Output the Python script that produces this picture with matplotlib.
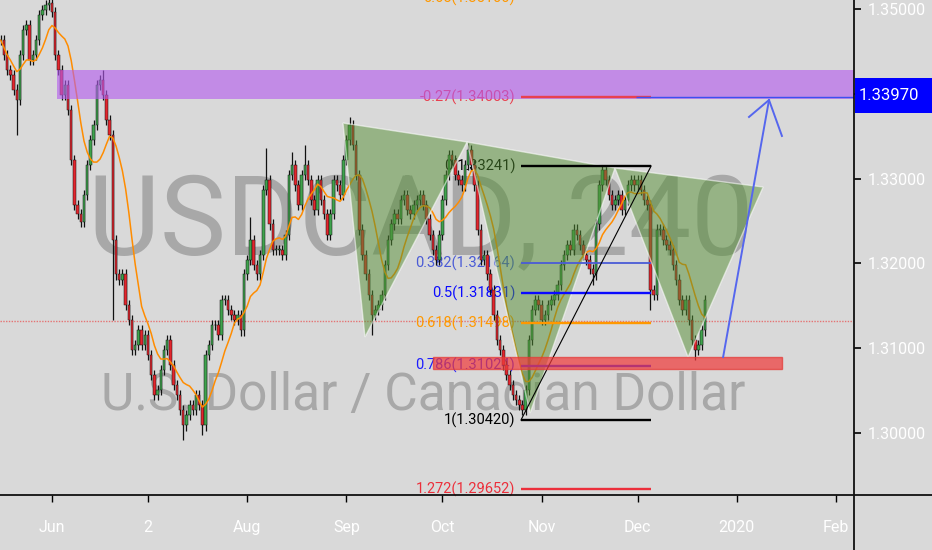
import numpy as np
import pandas as pd
import matplotlib
matplotlib.use('Agg')
import matplotlib.pyplot as plt
import matplotlib.dates as mdates
from matplotlib.patches import Polygon, Rectangle
from matplotlib.lines import Line2D

# daily closes, first bar 16 May 2019
first_day = '2019-05-16'
closes = [
    1.3463, 1.3446, 1.3428, 1.3422, 1.3405, 1.3393, 1.3446, 1.3475, 1.3481, 1.3440,
    1.3446, 1.3463, 1.3493, 1.3499, 1.3505, 1.3507, 1.3496, 1.3446, 1.3428, 1.3399,
    1.3410, 1.3381, 1.3322, 1.3269, 1.3258, 1.3249, 1.3281, 1.3316, 1.3346, 1.3363,
    1.3410, 1.3416, 1.3399, 1.3369, 1.3351, 1.3228, 1.3187, 1.3181, 1.3187, 1.3151,
    1.3133, 1.3098, 1.3104, 1.3121, 1.3104, 1.3116, 1.3092, 1.3068, 1.3045, 1.3051,
    1.3074, 1.3098, 1.3110, 1.3080, 1.3057, 1.3045, 1.3027, 1.3009, 1.3021, 1.3033,
    1.3027, 1.3045, 1.3033, 1.3009, 1.3092, 1.3104, 1.3127, 1.3127, 1.3116, 1.3157,
    1.3157, 1.3145, 1.3139, 1.3133, 1.3139, 1.3121, 1.3187, 1.3204, 1.3228, 1.3198,
    1.3187, 1.3210, 1.3287, 1.3298, 1.3246, 1.3216, 1.3216, 1.3216, 1.3210, 1.3234,
    1.3304, 1.3316, 1.3292, 1.3269, 1.3304, 1.3316, 1.3298, 1.3275, 1.3263, 1.3298,
    1.3275, 1.3258, 1.3234, 1.3258, 1.3298, 1.3292, 1.3281, 1.3322, 1.3346, 1.3363,
    1.3340, 1.3304, 1.3240, 1.3210, 1.3187, 1.3163, 1.3139, 1.3145, 1.3151, 1.3163,
    1.3198, 1.3228, 1.3246, 1.3258, 1.3252, 1.3275, 1.3281, 1.3263, 1.3258, 1.3269,
    1.3275, 1.3281, 1.3269, 1.3252, 1.3234, 1.3216, 1.3204, 1.3234, 1.3275, 1.3304,
    1.3328, 1.3322, 1.3304, 1.3298, 1.3292, 1.3316, 1.3334, 1.3316, 1.3292, 1.3240,
    1.3204, 1.3210, 1.3187, 1.3169, 1.3139, 1.3110, 1.3098, 1.3080, 1.3068, 1.3057,
    1.3045, 1.3039, 1.3033, 1.3027, 1.3051, 1.3110, 1.3145, 1.3157, 1.3151, 1.3133,
    1.3139, 1.3151, 1.3157, 1.3163, 1.3175, 1.3198, 1.3210, 1.3222, 1.3216, 1.3240,
    1.3234, 1.3222, 1.3210, 1.3204, 1.3193, 1.3187, 1.3246, 1.3292, 1.3310, 1.3298,
    1.3281, 1.3269, 1.3275, 1.3281, 1.3263, 1.3275, 1.3292, 1.3298, 1.3292, 1.3298,
    1.3287, 1.3275, 1.3269, 1.3169, 1.3163, 1.3240, 1.3240, 1.3228, 1.3222, 1.3216,
    1.3198, 1.3181, 1.3157, 1.3145, 1.3157, 1.3133, 1.3110, 1.3098, 1.3104, 1.3121,
    1.3157,
]

# long wicks sticking out of the pack
spike_days = ['2019-05-21', '2019-06-17', '2019-06-20', '2019-07-12', '2019-07-18',
              '2019-08-02', '2019-08-07', '2019-08-15', '2019-08-19', '2019-09-02',
              '2019-09-09', '2019-10-09', '2019-11-17', '2019-12-05', '2019-12-19']
spike_prices = [1.3351, 1.3428, 1.3133, 1.2992, 1.2998,
                1.3255, 1.3336, 1.3331, 1.3340, 1.3373,
                1.3116, 1.3342, 1.3175, 1.3145, 1.3086]

# the green triangles pattern
pattern_times = ['2019-08-30 22:00', '2019-09-06 19:00', '2019-10-08 17:00',
                 '2019-10-28 10:00', '2019-11-23 22:00', '2019-12-16 18:00',
                 '2020-01-09 05:00']
pattern_prices = [1.33656, 1.31133, 1.33432, 1.30237, 1.33125, 1.30897, 1.32901]

# fib retracement as drawn (positions of the 0 and 1 lines)
fib_from, fib_to = '2019-10-25 13:00', '2019-12-05 05:00'
fib_label_at = '2019-10-23 18:00'
fib_price_0, fib_price_1 = 1.33149, 1.30154
fib_ratios = [-0.66, -0.27, 0, 0.382, 0.5, 0.618, 0.786, 1, 1.272]
fib_texts = ['0.65(1.35100)', '-0.27(1.34003)', '0(1.33241)', '0.382(1.32164)',
             '0.5(1.31831)', '0.618(1.31498)', '0.786(1.31024)', '1(1.30420)',
             '1.272(1.29652)']
fib_colors = ['#ff9800', '#e8404f', 'black', '#4a5bd6', '#0a0aff', '#ff9800',
              '#1c1cff', 'black', '#ec2f3b']

# zones
sell_zone = ['2019-06-02 13:00', '2020-02-08', 1.33939, 1.34281]
buy_zone = ['2019-09-28 01:00', '2020-01-15 02:00', 1.30756, 1.30897]

target_price = 1.33970
target_line_price = 1.33965
target_from = '2019-11-30 12:00'
last_price = 1.3132

arrow_times = ['2019-12-27 17:00', '2020-01-11 01:00']
arrow_prices = [1.30897, 1.33927]
head_times = ['2020-01-04 19:00', '2020-01-11 01:00', '2020-01-15 02:00']
head_prices = [1.33727, 1.33927, 1.33503]

month_ticks = ['2019-06-01', '2019-07-01', '2019-08-01', '2019-09-01', '2019-10-01',
               '2019-11-01', '2019-12-01', '2020-01-01', '2020-02-01']
month_labels = ['Jun', '2', 'Aug', 'Sep', 'Oct', 'Nov', 'Dec', '2020', 'Feb']
price_ticks = [1.30, 1.31, 1.32, 1.33, 1.34, 1.35]

BG = '#d9d9d9'
FONT = ['Roboto', 'DejaVu Sans']
plt.rcParams['font.family'] = FONT


def t(s):
    return mdates.date2num(pd.Timestamp(s).to_pydatetime())


# candles
days = pd.date_range(first_day, periods=len(closes), freq='D')
x = mdates.date2num(days.to_pydatetime())
c = np.array(closes)
o = np.r_[c[0], c[:-1]]
hi = np.maximum(o, c) + 0.0006
lo = np.minimum(o, c) - 0.0006
for d, p in zip(spike_days, spike_prices):
    i = days.get_loc(pd.Timestamp(d))
    if p > c[i]:
        hi[i] = p
    else:
        lo[i] = p
ma = pd.Series(closes).rolling(10, min_periods=1).mean()

fig = plt.figure(figsize=(9.32, 5.5), dpi=100, facecolor=BG)
ax = fig.add_axes([0, 0.1, 854 / 932, 0.9])
ax.set_facecolor(BG)

jun1 = t('2019-06-01')
ax.set_xlim(jun1 - 16.25, jun1 + 250.6)
ax.set_ylim(1.29270, 1.35106)

# watermark
ax.text(0.493, 0.485, 'USDCAD, 240', transform=ax.transAxes, ha='center',
        va='baseline', fontsize=80, color='#a8a8a8', zorder=0.5)
ax.text(0.496, 0.172, 'U.S. Dollar / Canadian Dollar', transform=ax.transAxes,
        ha='center', va='baseline', fontsize=37, color='#a8a8a8', zorder=0.5)

# last price line
ax.axhline(last_price, color='#e57373', lw=1, ls=(0, (1, 1)), zorder=1)

# fib labels (under the candles)
fib_prices = [fib_price_0 + r * (fib_price_1 - fib_price_0) for r in fib_ratios]
for p, txt, col in zip(fib_prices, fib_texts, fib_colors):
    ax.text(t(fib_label_at), p, txt, ha='right', va='center', fontsize=10.5,
            color=col, zorder=1.5, clip_on=False)

# candles
up = c >= o
body_col = np.where(up, '#3fa34d', '#e3262d')
ax.vlines(x, lo, hi, color='#111111', lw=0.9, zorder=2)
ax.bar(x, np.maximum(np.abs(c - o), 0.00008), bottom=np.minimum(o, c), width=0.8,
       color=body_col, edgecolor='#111111', linewidth=0.35, zorder=2.1)
ax.plot(x, ma, color='#ff8c00', lw=1.1, zorder=2.5)

# purple zone
ax.add_patch(Rectangle((t(sell_zone[0]), sell_zone[2]),
                       t(sell_zone[1]) - t(sell_zone[0]), sell_zone[3] - sell_zone[2],
                       facecolor='#b45cef', alpha=0.62, edgecolor='none', zorder=3))

# green triangles
px = [t(s) for s in pattern_times]
for k in (0, 2, 4):
    tri = list(zip(px[k:k + 3], pattern_prices[k:k + 3]))
    ax.add_patch(Polygon(tri, closed=True, facecolor=(0.33, 0.56, 0.2, 0.5),
                         edgecolor=(1, 1, 1, 0.55), lw=1, zorder=3.2))

# fib lines and the diagonal
for p, col, r in zip(fib_prices, fib_colors, fib_ratios):
    ax.hlines(p, t(fib_from), t(fib_to), color=col, lw=1.3 if r == 0.382 else 1.7,
              zorder=3.5)
ax.plot([t(fib_from), t(fib_to)], [fib_price_1, fib_price_0], color='black', lw=0.8,
        zorder=3.5)

# red zone
ax.add_patch(Rectangle((t(buy_zone[0]), buy_zone[2]),
                       t(buy_zone[1]) - t(buy_zone[0]), buy_zone[3] - buy_zone[2],
                       facecolor='#f03c3c', alpha=0.72, edgecolor='#e53935', lw=1,
                       zorder=4))

# target line and projection arrow
ax.hlines(target_line_price, t(target_from), ax.get_xlim()[1], color='#3d4ff0', lw=1,
          zorder=5)
ax.plot([t(s) for s in arrow_times], arrow_prices, color='#5566ee', lw=1.4, zorder=5)
ax.plot([t(s) for s in head_times], head_prices, color='#5566ee', lw=1.4, zorder=5)

# axes
for s in ax.spines.values():
    s.set_visible(False)
ax.set_xticks([t(s) for s in month_ticks])
ax.set_xticklabels(month_labels)
ax.set_yticks(price_ticks)
# 1.34000 sits under the price tag, so it is left blank
ax.set_yticklabels(['' if v == 1.34 else '%.5f' % v for v in price_ticks])
ax.yaxis.tick_right()
ax.tick_params(axis='y', length=5, width=1.2, color='black', labelcolor='white',
               labelsize=11.5, pad=5)
ax.tick_params(axis='x', length=5, width=1, color='black', labelcolor='white',
               labelsize=11.5, pad=13)

fig.add_artist(Line2D([0, 1], [0.1, 0.1], color='#111111', lw=1.3))
fig.add_artist(Line2D([854 / 932, 854 / 932], [0, 1], color='#111111', lw=1.3))

# current target price tag
fig.add_artist(Rectangle((855 / 932, (550 - 113) / 550), 77 / 932, 35 / 550,
                         transform=fig.transFigure, facecolor='#0000ff',
                         edgecolor='none', zorder=5))
fig.text(889 / 932, (550 - 96) / 550, '%.5f' % target_price, ha='center', va='center',
         color='white', fontsize=12, zorder=6)

fig.savefig('out.png', dpi=100, facecolor=BG)
